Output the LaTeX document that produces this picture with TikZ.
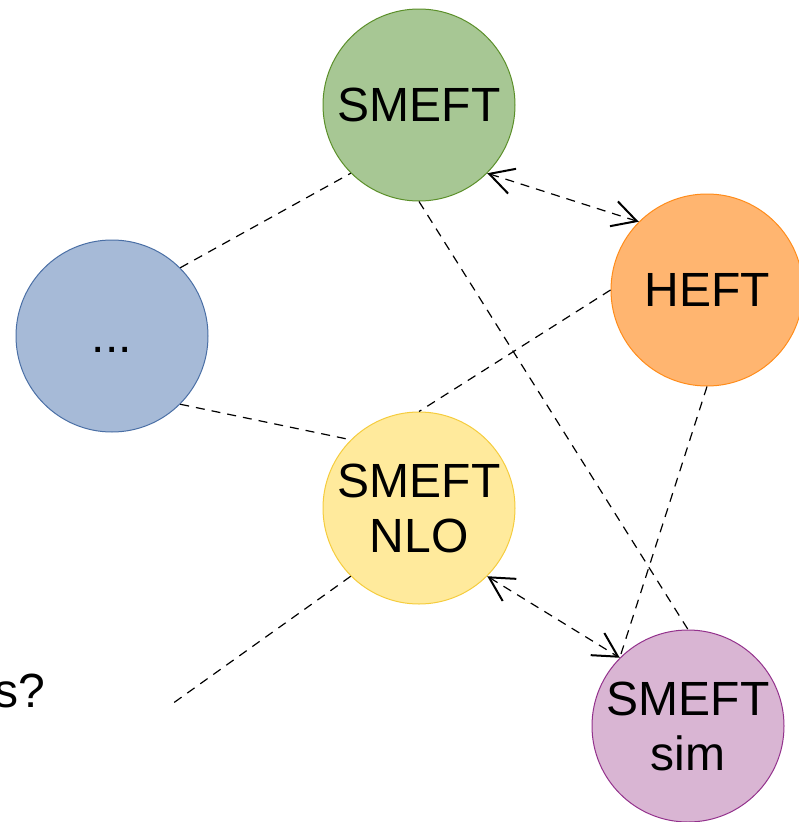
\documentclass[tikz,border=0pt]{standalone}
\usepackage{fontspec}
\setmainfont{Liberation Sans}
\usetikzlibrary{arrows.meta}
\definecolor{gfill}{HTML}{A7C794}
\definecolor{gdraw}{HTML}{5B8F29}
\definecolor{ofill}{HTML}{FFB570}
\definecolor{odraw}{HTML}{FF8C1A}
\definecolor{bfill}{HTML}{A6BAD7}
\definecolor{bdraw}{HTML}{4A6FA5}
\definecolor{yfill}{HTML}{FFEA9C}
\definecolor{ydraw}{HTML}{F5CC3D}
\definecolor{pfill}{HTML}{D9B5D3}
\definecolor{pdraw}{HTML}{93318C}
\begin{document}
\begin{tikzpicture}[x=1pt,y=-1pt,
  bubble/.style={circle, minimum size=192pt, inner sep=0pt, line width=1pt, align=center,
    font=\fontsize{48}{55}\selectfont},
  link/.style={draw=black, line width=1.2pt, dash pattern=on 9pt off 7pt},
  tipboth/.style={{Straight Barb[length=24pt,width=26pt,line width=2pt]}-{Straight Barb[length=24pt,width=26pt,line width=2pt]}}
]
\useasboundingbox (0,0) rectangle (799,822);
\node[bubble, fill=gfill, draw=gdraw] (smeft) at (419,105) {SMEFT};
\node[bubble, fill=ofill, draw=odraw] (heft) at (707,290) {HEFT};
\node[bubble, fill=bfill, draw=bdraw] (dots) at (112,336) {\vphantom{S}...};
\node[bubble, fill=yfill, draw=ydraw] (nlo) at (419,508) {SMEFT\\NLO};
\node[bubble, fill=pfill, draw=pdraw] (sim) at (688,726) {SMEFT\\sim};
\node[anchor=base east, inner sep=0pt, font=\fontsize{48}{55}\selectfont] (others) at (45,707) {s?};
\coordinate (free) at (172,704);

\draw[link] (dots.45) -- (smeft.225);
\draw[link] (dots.-45) -- (nlo.135);
\draw[link, tipboth] (smeft.-45) -- (heft.135);
\draw[link] (smeft.270) -- (sim.90);
\draw[link] (heft.180) -- (nlo.90);
\draw[link] (heft.270) -- (sim.135);
\draw[link, tipboth] (nlo.-45) -- (sim.135);
\draw[link] (nlo.225) -- (free);
\end{tikzpicture}
\end{document}
